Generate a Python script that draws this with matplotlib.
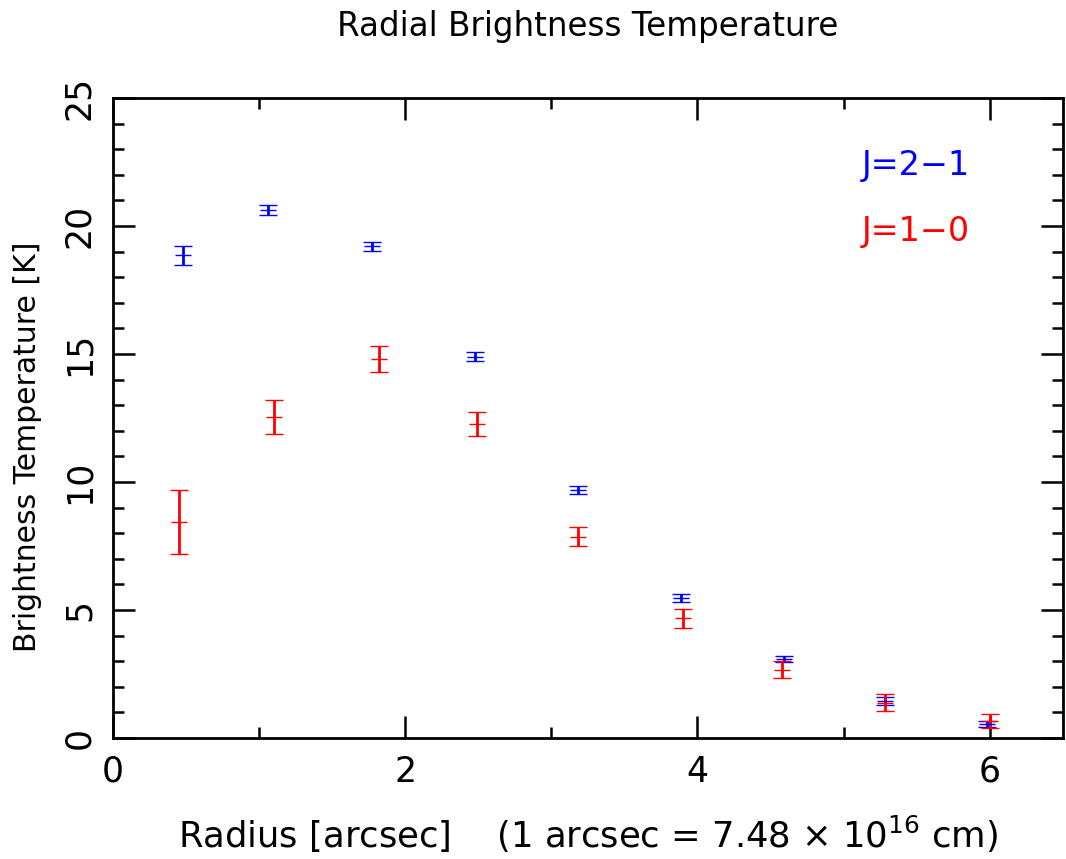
import numpy as np
import matplotlib
matplotlib.use("Agg")
import matplotlib.pyplot as plt
from matplotlib.ticker import MultipleLocator

# J=2-1 (blue)
r21 = [0.48, 1.06, 1.77, 2.48, 3.18, 3.89, 4.59, 5.28, 5.98]
tb21 = [18.85, 20.62, 19.2, 14.9, 9.7, 5.47, 3.1, 1.45, 0.55]
err21 = [0.37, 0.2, 0.17, 0.16, 0.15, 0.15, 0.12, 0.15, 0.12]

# J=1-0 (red)
r10 = [0.45, 1.10, 1.82, 2.49, 3.18, 3.90, 4.58, 5.28, 6.00]
tb10 = [8.45, 12.55, 14.8, 12.27, 7.87, 4.68, 2.67, 1.38, 0.66]
err10 = [1.25, 0.66, 0.52, 0.46, 0.37, 0.37, 0.33, 0.33, 0.28]

plt.rcParams['font.family'] = ['DejaVu Sans']

fig = plt.figure(figsize=(10.66, 8.59), dpi=100)
ax = fig.add_axes([0.106, 0.1409, 0.891, 0.745])

for r, tb, err, col in [(r21, tb21, err21, 'blue'), (r10, tb10, err10, 'red')]:
    ax.errorbar(r, tb, yerr=err, fmt='_', color=col, ecolor=col,
                markersize=12, markeredgewidth=1.0, elinewidth=2.0,
                capsize=6.2, capthick=2.5)

ax.set_xlim(0, 6.5)
ax.set_ylim(0, 25)
ax.xaxis.set_major_locator(MultipleLocator(2))
ax.xaxis.set_minor_locator(MultipleLocator(1))
ax.yaxis.set_major_locator(MultipleLocator(5))
ax.yaxis.set_minor_locator(MultipleLocator(1))
ax.tick_params(which='both', direction='in', top=True, right=True, width=1.8,
               labelsize=25)
ax.tick_params(which='major', length=16, pad=12)
ax.tick_params(which='minor', length=8)
for lab in ax.get_yticklabels():
    lab.set_rotation(90)
    lab.set_va('center')
for s in ax.spines.values():
    s.set_linewidth(2.0)

ax.set_xlabel(r'Radius [arcsec]    (1 arcsec = 7.48 $\times$ 10$^{16}$ cm)',
              fontsize=25.5, labelpad=18)
ax.set_ylabel('Brightness Temperature [K]', fontsize=21.5)
ax.yaxis.set_label_coords(-0.075, 0.455)
ax.set_title('Radial Brightness Temperature', fontsize=23.5, pad=45)

ax.text(0.902, 0.895, 'J=2\u22121', color='blue', fontsize=24,
        transform=ax.transAxes, ha='right', va='center')
ax.text(0.902, 0.792, 'J=1\u22120', color='red', fontsize=24,
        transform=ax.transAxes, ha='right', va='center')

fig.savefig('out.png', dpi=100)
